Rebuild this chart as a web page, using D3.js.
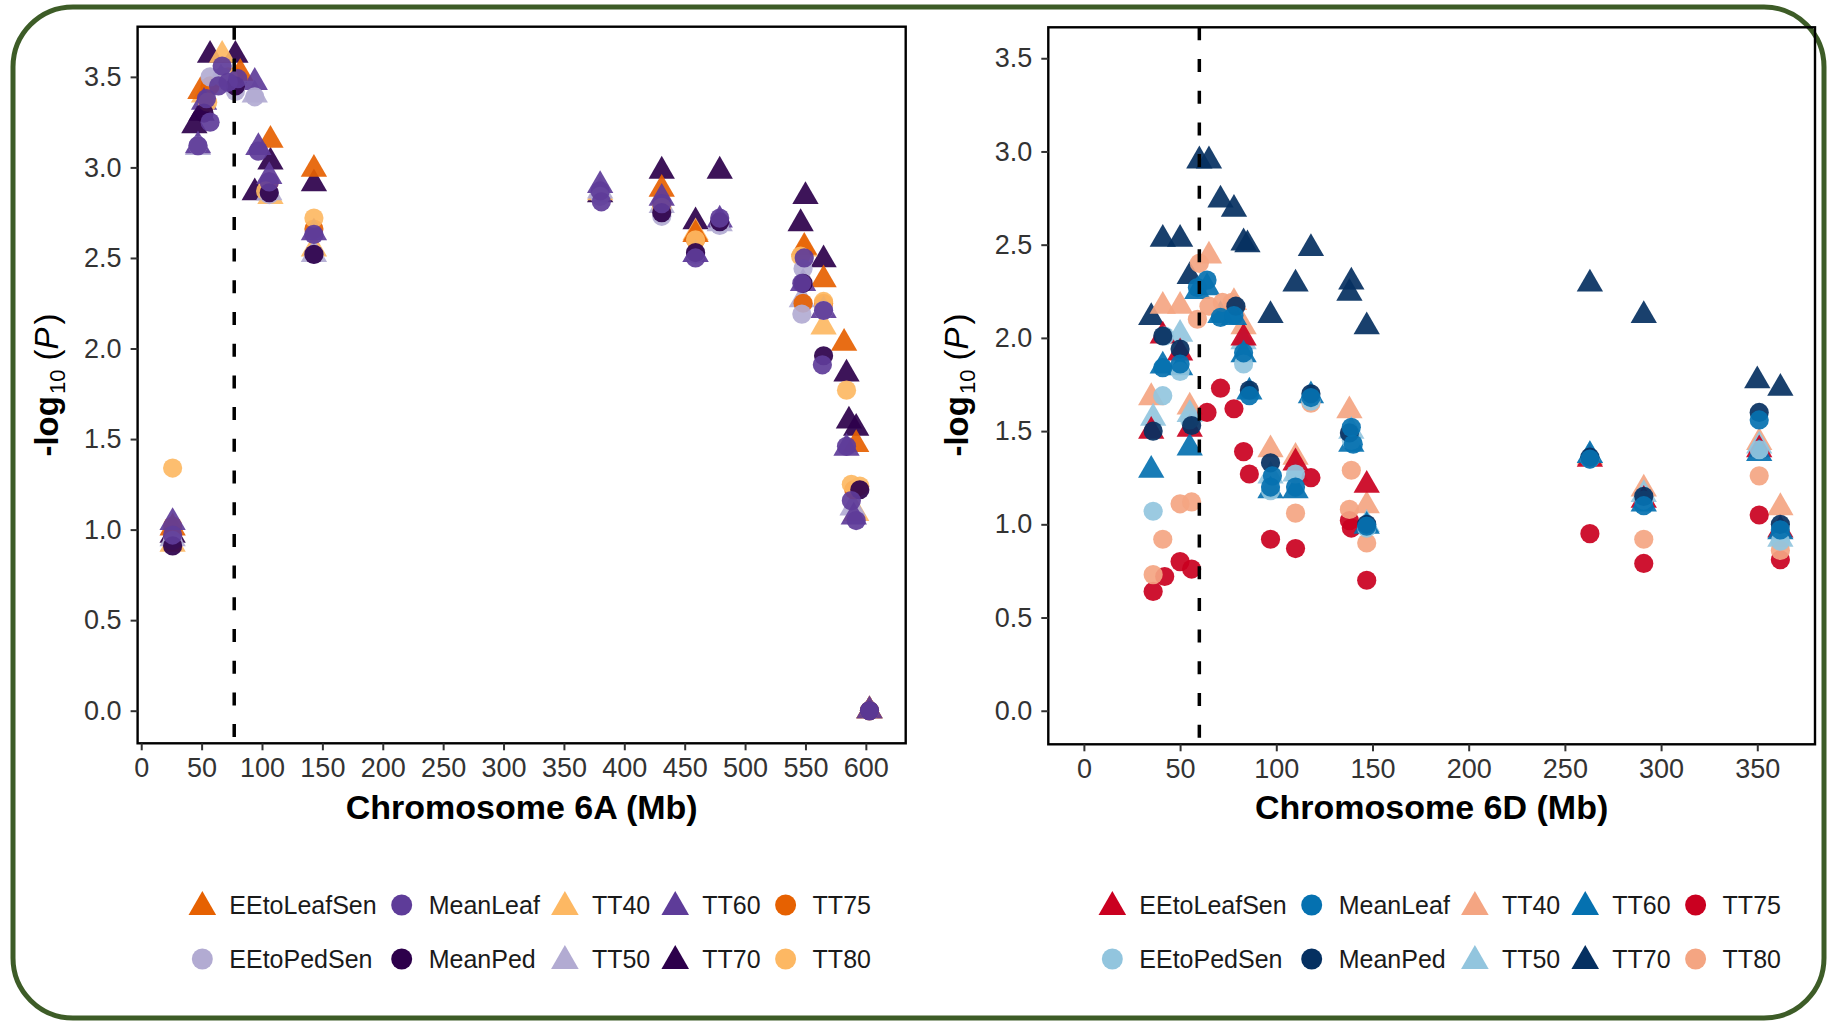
<!DOCTYPE html>
<html>
<head>
<meta charset="utf-8">
<script src="https://cdn.jsdelivr.net/npm/d3@7"></script>
<style>
  body { margin: 0; background: #fff; }
  svg { display: block; }
  text { font-family: "Liberation Sans", Arial, sans-serif; }
</style>
</head>
<body>
<div id="wrapper"></div>
<script>
// trait names, in legend order (row 1 then row 2)
const legendRow1 = ["EEtoLeafSen", "MeanLeaf", "TT40", "TT60", "TT75"];
const legendRow2 = ["EEtoPedSen", "MeanPed", "TT50", "TT70", "TT80"];
const triangleTraits = ["EEtoLeafSen", "TT40", "TT50", "TT60", "TT70"];

// draw order (first = bottom)
const drawOrder = ["TT70", "TT40", "TT50", "EEtoLeafSen", "TT75", "TT60", "TT80", "EEtoPedSen", "MeanPed", "MeanLeaf"];

const colours6A = {
    EEtoLeafSen: "#e66101", MeanLeaf: "#5e3c99", TT40: "#fdb863", TT60: "#5e3c99", TT75: "#e66101",
    EEtoPedSen: "#b2abd2", MeanPed: "#2d004b", TT50: "#b2abd2", TT70: "#2d004b", TT80: "#fdb863"
};
const colours6D = {
    EEtoLeafSen: "#ca0020", MeanLeaf: "#0571b0", TT40: "#f4a582", TT60: "#0571b0", TT75: "#ca0020",
    EEtoPedSen: "#92c5de", MeanPed: "#053061", TT50: "#92c5de", TT70: "#053061", TT80: "#f4a582"
};

const yTicks = [0, 0.5, 1, 1.5, 2, 2.5, 3, 3.5];
const xTicks6A = [0, 50, 100, 150, 200, 250, 300, 350, 400, 450, 500, 550, 600];
const xTicks6D = [0, 50, 100, 150, 200, 250, 300, 350];
const qtl6A = 77;
const qtl6D = 60;

// chromosome 6A: [position Mb, -log10 P]
const a6_EEtoLeafSen = [[26,1.01],[49,3.42],[82,3.52],[107,3.15],[143,2.99],[431,2.88],[459,2.63],[549,2.56],[565,2.38],[582,2.03],[592,1.47],[603,0.0]];
const a6_TT75 = [[26,1.02],[57,3.45],[77,3.50],[106,2.92],[143,2.66],[431,2.80],[459,2.60],[548,2.25],[565,2.25],[590,1.22],[603,0.0]];
const a6_TT40 = [[26,0.92],[52,3.40],[67,3.62],[107,2.84],[143,2.55],[380,2.86],[459,2.64],[549,2.55],[565,2.12],[592,1.09],[603,0.0]];
const a6_TT80 = [[26,1.34],[55,3.36],[72,3.50],[103,2.87],[143,2.72],[431,2.78],[459,2.60],[546,2.51],[565,2.26],[584,1.77],[588,1.25],[595,1.24],[603,0.0]];
const a6_TT70 = [[26,0.97],[44,3.23],[50,3.30],[57,3.62],[78,3.62],[94,2.86],[107,3.03],[143,2.91],[380,2.85],[431,2.98],[459,2.70],[479,2.98],[546,2.69],[550,2.84],[565,2.49],[584,1.86],[586,1.60],[592,1.56],[603,0.0]];
const a6_MeanPed = [[26,0.91],[52,3.30],[78,3.45],[106,2.86],[143,2.52],[431,2.75],[459,2.53],[479,2.70],[548,2.36],[565,1.96],[595,1.22],[603,0.0]];
const a6_TT60 = [[26,1.04],[47,3.12],[52,3.36],[94,3.47],[97,3.11],[106,2.95],[143,2.64],[380,2.90],[431,2.83],[459,2.52],[479,2.71],[548,2.36],[565,2.21],[584,1.45],[590,1.07],[603,0.0]];
const a6_MeanLeaf = [[26,0.97],[47,3.12],[54,3.38],[57,3.25],[64,3.45],[67,3.56],[72,3.47],[80,3.49],[97,3.09],[106,2.92],[143,2.63],[380,2.87],[381,2.81],[431,2.80],[459,2.50],[479,2.72],[549,2.50],[547,2.36],[565,2.21],[564,1.91],[584,1.46],[588,1.16],[592,1.05],[603,0.0]];
const a6_EEtoPedSen = [[26,0.94],[47,3.12],[57,3.50],[67,3.50],[78,3.42],[94,3.39],[106,2.85],[143,2.52],[380,2.84],[431,2.73],[459,2.52],[479,2.68],[548,2.44],[547,2.19],[565,2.21],[603,0.0]];
const a6_TT50 = [[26,0.95],[47,3.11],[66,3.49],[94,3.40],[106,2.86],[143,2.52],[380,2.87],[431,2.79],[459,2.52],[479,2.69],[547,2.27],[589,1.12],[603,0.0]];

// chromosome 6D
const d6_TT70 = [[35,2.11],[41,2.53],[50,2.53],[55,2.33],[60,2.95],[65,2.95],[71,2.74],[78,2.69],[83,2.51],[85,2.50],[97,2.12],[110,2.29],[118,2.48],[138,2.24],[139,2.30],[147,2.06],[263,2.29],[291,2.12],[350,1.77],[362,1.73]];
const d6_TT40 = [[35,1.68],[41,2.17],[50,2.17],[55,1.63],[65,2.44],[78,2.19],[83,2.06],[97,1.40],[110,1.36],[138,1.61],[147,1.10],[263,1.36],[291,1.19],[351,1.44],[362,1.09]];
const d6_TT80 = [[36,0.73],[41,0.92],[50,1.11],[56,1.12],[59,2.10],[60,2.40],[65,2.17],[72,2.19],[77,2.19],[110,1.06],[118,1.65],[138,1.08],[139,1.29],[147,0.90],[291,0.92],[351,1.26],[362,0.86]];
const d6_TT75 = [[36,0.64],[42,0.72],[50,0.80],[56,0.76],[64,1.60],[71,1.73],[78,1.62],[83,1.39],[86,1.27],[97,0.92],[110,0.87],[118,1.25],[138,1.02],[139,0.98],[147,0.70],[263,0.95],[291,0.79],[351,1.05],[362,0.81]];
const d6_EEtoLeafSen = [[35,1.50],[41,2.01],[50,1.92],[55,1.51],[83,2.00],[110,1.33],[147,1.21],[263,1.35],[291,1.13],[351,1.40],[362,0.97]];
const d6_MeanLeaf = [[41,1.84],[50,1.86],[59,2.27],[64,2.31],[71,2.11],[78,2.12],[83,1.92],[86,1.69],[97,1.20],[98,1.26],[110,1.20],[118,1.68],[139,1.52],[140,1.43],[147,0.99],[263,1.35],[291,1.10],[351,1.56],[362,0.97]];
const d6_MeanPed = [[36,1.50],[41,2.01],[50,1.94],[56,1.53],[79,2.17],[86,1.72],[97,1.33],[118,1.70],[138,1.49],[147,1.00],[263,1.36],[291,1.15],[351,1.60],[362,1.00]];
const d6_EEtoPedSen = [[36,1.07],[41,1.69],[42,2.01],[50,1.82],[55,1.56],[83,1.86],[97,1.18],[110,1.27],[118,1.66],[139,1.45],[147,0.98],[263,1.35],[291,1.13],[351,1.40],[362,0.91]];
const d6_TT60 = [[35,1.29],[41,1.85],[50,1.84],[55,1.41],[59,2.25],[64,2.27],[71,2.12],[78,2.11],[83,1.91],[86,1.71],[97,1.18],[110,1.18],[118,1.69],[139,1.43],[147,0.99],[263,1.37],[291,1.11],[351,1.38],[362,0.96]];
const d6_TT50 = [[36,1.57],[50,2.02],[55,1.59],[83,1.98],[97,1.26],[110,1.27],[139,1.50],[147,1.00],[263,1.37],[291,1.16],[351,1.42],[362,0.92]];

const series6A = {
    EEtoLeafSen: a6_EEtoLeafSen, EEtoPedSen: a6_EEtoPedSen, MeanLeaf: a6_MeanLeaf, MeanPed: a6_MeanPed,
    TT40: a6_TT40, TT50: a6_TT50, TT60: a6_TT60, TT70: a6_TT70, TT75: a6_TT75, TT80: a6_TT80
};
const series6D = {
    EEtoLeafSen: d6_EEtoLeafSen, EEtoPedSen: d6_EEtoPedSen, MeanLeaf: d6_MeanLeaf, MeanPed: d6_MeanPed,
    TT40: d6_TT40, TT50: d6_TT50, TT60: d6_TT60, TT70: d6_TT70, TT75: d6_TT75, TT80: d6_TT80
};

const dimension = { width: 1827, height: 1021 };

const svg = d3.select("#wrapper").append("svg")
    .attr("width", dimension.width)
    .attr("height", dimension.height);

// green frame
svg.append("rect")
    .attr("x", 13).attr("y", 7)
    .attr("width", 1811).attr("height", 1011)
    .attr("rx", 60).attr("ry", 60)
    .attr("fill", "none")
    .attr("stroke", "#3d5c27")
    .attr("stroke-width", 5);

const triangle = d3.symbol().type(d3.symbolTriangle).size(300);
const triangleKey = d3.symbol().type(d3.symbolTriangle).size(330);

function drawPanel(cfg) {
    const xScaler = d3.scaleLinear().domain(cfg.xDomain).range([cfg.left, cfg.right]);
    const yScaler = d3.scaleLinear().domain(cfg.yDomain).range([cfg.bottom, cfg.top]);
    const g = svg.append("g");

    // points
    drawOrder.forEach(trait => {
        const isTri = triangleTraits.includes(trait);
        const pts = g.append("g").selectAll(isTri ? "path" : "circle")
            .data(cfg.series[trait])
            .join(isTri ? "path" : "circle")
            .attr("fill", cfg.colours[trait])
            .attr("fill-opacity", 0.92);
        if (isTri) {
            pts.attr("d", triangle)
                .attr("transform", d => `translate(${xScaler(d[0])},${yScaler(d[1])})`);
        } else {
            pts.attr("cx", d => xScaler(d[0]))
                .attr("cy", d => yScaler(d[1]))
                .attr("r", 9.6);
        }
    });

    // QTL line
    g.append("line")
        .attr("x1", xScaler(cfg.qtl)).attr("x2", xScaler(cfg.qtl))
        .attr("y1", cfg.top).attr("y2", cfg.bottom)
        .attr("stroke", "#000")
        .attr("stroke-width", 3.5)
        .attr("stroke-dasharray", "13,18.7");

    // frame
    g.append("rect")
        .attr("x", cfg.left).attr("y", cfg.top)
        .attr("width", cfg.right - cfg.left).attr("height", cfg.bottom - cfg.top)
        .attr("fill", "none")
        .attr("stroke", "#000")
        .attr("stroke-width", 2.4);

    // axes
    const yAxis = g.append("g")
        .attr("transform", `translate(${cfg.left},0)`)
        .call(d3.axisLeft(yScaler).tickValues(yTicks).tickFormat(d3.format(".1f")).tickSizeOuter(0).tickSize(7).tickPadding(9));
    const xAxis = g.append("g")
        .attr("transform", `translate(0,${cfg.bottom})`)
        .call(d3.axisBottom(xScaler).tickValues(cfg.xTicks).tickFormat(d3.format("d")).tickSizeOuter(0).tickSize(7).tickPadding(8));
    [xAxis, yAxis].forEach(ax => {
        ax.select(".domain").remove();
        ax.selectAll(".tick line").attr("stroke", "#333").attr("stroke-width", 2);
        ax.selectAll(".tick text")
            .attr("fill", "#333")
            .style("font-size", "27px")
            .style("font-family", "'Liberation Sans', Arial, sans-serif");
    });

    // axis titles
    g.append("text")
        .attr("x", (cfg.left + cfg.right) / 2)
        .attr("y", 819)
        .attr("text-anchor", "middle")
        .attr("font-weight", "bold")
        .attr("font-size", 34)
        .attr("fill", "#000")
        .text(cfg.xTitle);

    const yt = g.append("text")
        .attr("transform", `translate(${cfg.left - 80},385) rotate(-90)`)
        .attr("text-anchor", "middle")
        .attr("font-size", 33)
        .attr("fill", "#000");
    yt.append("tspan").attr("font-weight", "bold").text("-log");
    yt.append("tspan").attr("font-size", 22).attr("dy", 7).attr("dx", 2).text("10");
    yt.append("tspan").attr("dy", -7).text(" (");
    yt.append("tspan").attr("font-style", "italic").text("P");
    yt.append("tspan").attr("dx", 3).text(")");

    // legend
    const legend = g.append("g");
    const rows = [legendRow1, legendRow2];
    const rowY = [909, 963];
    // lay out columns from the text widths
    const probe = legend.append("text").attr("font-size", 25);
    const colWidths = legendRow1.map((t, i) => {
        const w1 = probe.text(t).node().getComputedTextLength();
        const w2 = probe.text(legendRow2[i]).node().getComputedTextLength();
        return Math.max(w1, w2);
    });
    probe.remove();
    const keyToText = 27, colGap = 25;
    const total = d3.sum(colWidths) + colWidths.length * keyToText + (colWidths.length - 1) * colGap + 14;
    let x0 = (cfg.left + cfg.right) / 2 + 8 - total / 2 + 14;
    const colX = [];
    colWidths.forEach(w => { colX.push(x0); x0 += keyToText + w + colGap; });

    rows.forEach((row, r) => {
        row.forEach((trait, i) => {
            const cx = colX[i], cy = rowY[r];
            if (triangleTraits.includes(trait)) {
                legend.append("path")
                    .attr("d", triangleKey)
                    .attr("transform", `translate(${cx},${cy - 2})`)
                    .attr("fill", cfg.colours[trait]);
            } else {
                legend.append("circle")
                    .attr("cx", cx).attr("cy", cy - 4).attr("r", 10.5)
                    .attr("fill", cfg.colours[trait]);
            }
            legend.append("text")
                .attr("x", cx + keyToText)
                .attr("y", cy + 5)
                .attr("font-size", 25)
                .attr("fill", "#1a1a1a")
                .text(trait);
        });
    });
}

drawPanel({
    left: 137.6, right: 905.7, top: 26.7, bottom: 743.3,
    xDomain: [-3, 633], yDomain: [-0.18, 3.777],
    xTicks: xTicks6A, qtl: qtl6A,
    series: series6A, colours: colours6A,
    xTitle: "Chromosome 6A (Mb)"
});

drawPanel({
    left: 1048.3, right: 1815, top: 27.3, bottom: 744.3,
    xDomain: [-18.5, 380], yDomain: [-0.18, 3.666],
    xTicks: xTicks6D, qtl: qtl6D,
    series: series6D, colours: colours6D,
    xTitle: "Chromosome 6D (Mb)"
});
</script>
</body>
</html>
